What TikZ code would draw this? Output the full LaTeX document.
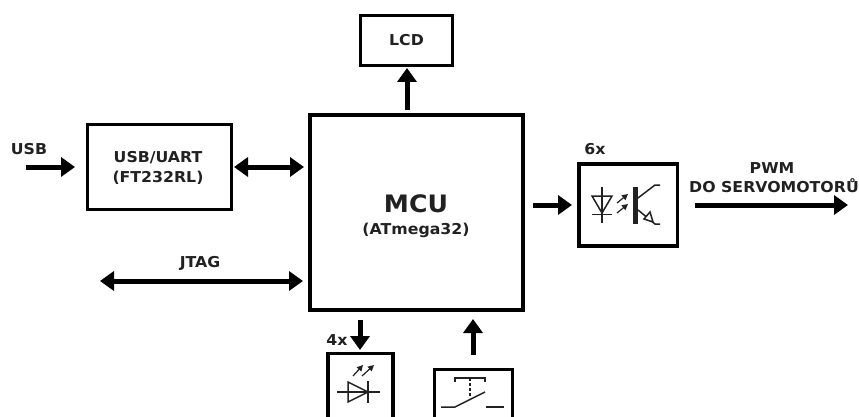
\documentclass[tikz,border=0pt]{standalone}
\usepackage{fontspec}
\setmainfont[FakeStretch=1.05]{DejaVu Sans}
\usetikzlibrary{arrows.meta}
\definecolor{lText}{gray}{0.13}
\tikzset{
  blok/.style={draw=black, line width=3.5pt, fill=white, inner sep=0pt},
  popis/.style={font=\bfseries\fontsize{15}{17}\selectfont, text=lText, inner sep=0pt},
  tok/.style={line width=5pt, -{Triangle[length=14pt,width=19pt]}},
  tokdva/.style={line width=5pt, {Triangle[length=14pt,width=19pt]}-{Triangle[length=14pt,width=19pt]}},
  znacka/.style={line width=1.5pt, draw=lText},
  sipka/.style={line width=1.2pt, draw=lText, -{Triangle[length=6pt,width=6pt]}}
}
\begin{document}
\begin{tikzpicture}[x=1pt,y=-1pt]
        \useasboundingbox (0,0) rectangle (859,417);
        \clip (0,0) rectangle (859,417);
        % bloky
        \node [blok, line width=4.5pt, minimum width=213pt, minimum height=195pt] (mcu) at (416.5,212.5) {};
        \node [blok, minimum width=92pt, minimum height=50pt] (lcd) at (406.5,40.5) {};
        \node [blok, minimum width=144pt, minimum height=85pt] (usbuart) at (159.5,167) {};
        \node [blok, minimum width=98.5pt, minimum height=82pt] (opto) at (628,205) {};
        \node [blok, minimum width=65pt, minimum height=87pt] (led) at (360.5,397) {};
        \node [blok, minimum width=78pt, minimum height=70pt] (tlacitko) at (473.5,404.5) {};
        % texty
        \node [popis] (lcdtext) at (406.5,40) {LCD};
        \node [popis] (usbtext) at (29,149) {USB};
        \node [popis] (uarttext) at (158,158) {USB/UART};
        \node [popis] (fttext) at (158,178) {(FT232RL)};
        \node [popis] (jtagtext) at (200,263) {JTAG};
        \node [popis, font=\bfseries\fontsize{24}{26}\selectfont] (mcutext) at (416,204) {MCU};
        \node [popis] (atmegatext) at (416,230) {(ATmega32)};
        \node [popis] (sesttext) at (595,149) {6x};
        \node [popis] (ctyritext) at (337,340) {4x};
        \node [popis] (pwmtext) at (772,168) {PWM};
        \node [popis] (servotext) at (774,186) {DO SERVOMOTORŮ};
        % volne konce
        \coordinate (usbin) at (26,167);
        \coordinate (usbend) at (75,167);
        \coordinate (jtagend) at (100,281);
        \coordinate (jtagr) at (303,281);
        \coordinate (pwmstart) at (695,205);
        \coordinate (pwmend) at (848,205);
        \coordinate (ledstart) at (360,320);
        \coordinate (ledend) at (360,350);
        \coordinate (tlstart) at (473,355);
        \coordinate (tlend) at (473,319);
        \coordinate (mcuout) at (533,205);
        \coordinate (optoin) at (572,205);
        \coordinate (mcutop) at (407,110);
        \coordinate (lcdin) at (407,68);
        \coordinate (uartl) at (234,167);
        \coordinate (uartr) at (304,167);
        % spoje
        \draw [tok] (usbin) -- (usbend);
        \draw [tokdva] (uartl) -- (uartr);
        \draw [tokdva] (jtagend) -- (jtagr);
        \draw [tok] (mcutop) -- (lcdin);
        \draw [tok] (mcuout) -- (optoin);
        \draw [tok] (pwmstart) -- (pwmend);
        \draw [tok] (ledstart) -- (ledend);
        \draw [tok] (tlstart) -- (tlend);
        % optoclen
        \draw [znacka] (602,187) -- (602,223);
        \draw [znacka] (592,196) -- (612,196) -- (602,213) -- cycle;
        \draw [znacka] (592,214.5) -- (612,214.5);
        \draw [sipka] (617,203) -- (628,194);
        \draw [sipka] (617,213) -- (628,204);
        \fill [lText] (633,187) rectangle (638,224);
        \draw [znacka] (638,198) -- (655,185) -- (660,185);
        \draw [znacka] (638,210) -- (655,224) -- (660,224);
        \draw [znacka, fill=white] (653,222) -- (644,219) -- (650,212) -- cycle;
        % dioda
        \draw [znacka] (337,392) -- (380,392);
        \draw [znacka] (348,382) -- (348,402) -- (368,392) -- cycle;
        \draw [znacka] (368,381) -- (368,403);
        \draw [sipka] (353,376) -- (363,365);
        \draw [sipka] (362,376) -- (374,365);
        % tlacitko
        \draw [znacka] (455,382) -- (455,378) -- (485,378) -- (485,382);
        \draw [znacka, dash pattern=on 3pt off 2pt] (470,378) -- (470,398);
        \draw [znacka] (441,407) -- (455,407) -- (485,392);
        \draw [znacka] (486,407) -- (504,407);
      \end{tikzpicture}
\end{document}
